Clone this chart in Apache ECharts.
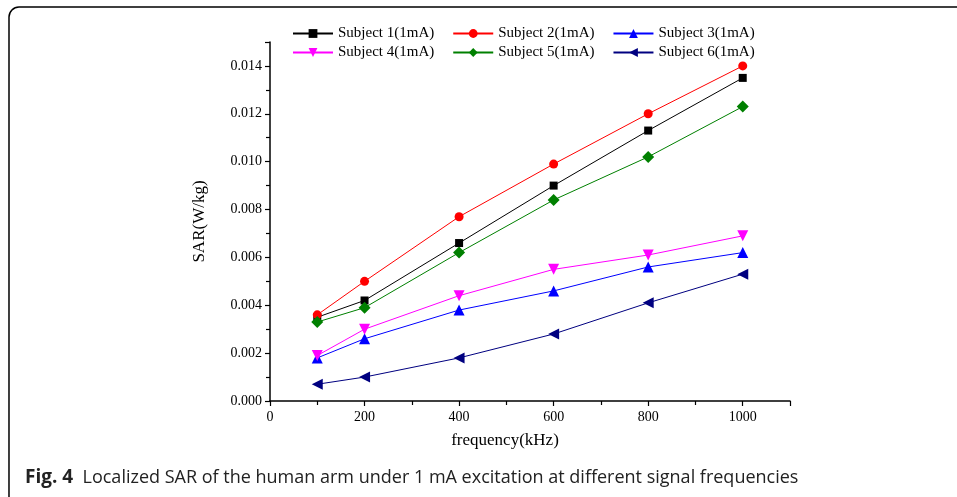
<!DOCTYPE html>
<html>
<head>
<meta charset="utf-8">
<script src="https://cdn.jsdelivr.net/npm/echarts@6/dist/echarts.min.js"></script>
<style>
  html, body { margin: 0; padding: 0; background: #fff; }
  #chart { width: 957px; height: 497px; }
</style>
</head>
<body>
<div id="chart"></div>
<script>
var chartDom = document.getElementById('chart');
var myChart = echarts.init(chartDom);

var frequencies = [100, 200, 400, 600, 800, 1000];
var subject1 = [0.0035, 0.0042, 0.0066, 0.0090, 0.0113, 0.0135];
var subject2 = [0.0036, 0.0050, 0.0077, 0.0099, 0.0120, 0.0140];
var subject3 = [0.0018, 0.0026, 0.0038, 0.0046, 0.0056, 0.0062];
var subject4 = [0.0019, 0.0030, 0.0044, 0.0055, 0.0061, 0.0069];
var subject5 = [0.0033, 0.0039, 0.0062, 0.0084, 0.0102, 0.0123];
var subject6 = [0.0007, 0.0010, 0.0018, 0.0028, 0.0041, 0.0053];

var names = ['Subject 1(1mA)', 'Subject 2(1mA)', 'Subject 3(1mA)',
             'Subject 4(1mA)', 'Subject 5(1mA)', 'Subject 6(1mA)'];

function pairs(values) {
  return frequencies.map(function (f, i) { return [f, values[i]]; });
}

var serif = 'Liberation Serif';

function makeSeries(name, values, color, symbol, size, rotate) {
  return {
    name: name,
    type: 'line',
    data: pairs(values),
    symbol: symbol,
    symbolSize: size,
    symbolRotate: rotate || 0,
    showAllSymbol: true,
    lineStyle: { color: color, width: 1 },
    itemStyle: { color: color },
    emphasis: { disabled: true }
  };
}

var legendCommon = {
  left: 287,
  itemWidth: 40,
  itemHeight: 11,
  itemGap: 18,
  textStyle: { fontFamily: serif, fontSize: 15, color: '#000' }
};

var option = {
  animation: false,
  backgroundColor: '#fff',
  legend: [
    Object.assign({ top: 21, data: names.slice(0, 3) }, legendCommon),
    Object.assign({ top: 40, data: names.slice(3, 6) }, legendCommon)
  ],
  grid: { left: 270, right: 167, top: 42, bottom: 96 },
  xAxis: {
    type: 'value',
    min: 0,
    max: 1100,
    interval: 200,
    name: 'frequency(kHz)',
    nameLocation: 'middle',
    nameGap: 31,
    nameTextStyle: { fontFamily: serif, fontSize: 17, color: '#000', padding: [0, 50, 0, 0] },
    axisLine: { lineStyle: { color: '#000', width: 1.5 } },
    axisTick: { length: 5, lineStyle: { color: '#000', width: 1.2 } },
    minorTick: { show: true, splitNumber: 2, length: 4, lineStyle: { color: '#000', width: 1.2 } },
    axisLabel: {
      fontFamily: serif, fontSize: 14, color: '#000', margin: 9,
      formatter: function (v) { return v > 1000 ? '' : v; }
    },
    splitLine: { show: false }
  },
  yAxis: {
    type: 'value',
    min: 0,
    max: 0.015,
    interval: 0.002,
    name: 'SAR(W/kg)',
    nameLocation: 'middle',
    nameGap: 62,
    nameTextStyle: { fontFamily: serif, fontSize: 17, color: '#000' },
    axisLine: { show: true, lineStyle: { color: '#000', width: 1.5 } },
    axisTick: { show: true, length: 5, lineStyle: { color: '#000', width: 1.2 } },
    minorTick: { show: true, splitNumber: 2, length: 4, lineStyle: { color: '#000', width: 1.2 } },
    axisLabel: {
      fontFamily: serif, fontSize: 14, color: '#000', margin: 8,
      formatter: function (v) { return v > 0.0145 ? '' : v.toFixed(3); }
    },
    splitLine: { show: false }
  },
  series: [
    makeSeries(names[0], subject1, '#000000', 'rect', 8),
    makeSeries(names[1], subject2, '#ff0000', 'circle', 9),
    makeSeries(names[2], subject3, '#0000ff', 'triangle', 11),
    makeSeries(names[3], subject4, '#ff00ff', 'triangle', 11, 180),
    makeSeries(names[4], subject5, '#008000', 'diamond', 12),
    makeSeries(names[5], subject6, '#000080', 'triangle', 11, 90)
  ],
  graphic: [
    {
      type: 'rect',
      shape: { x: 9, y: 7, width: 1000, height: 500, r: [10, 0, 0, 10] },
      style: { fill: null, stroke: '#000', lineWidth: 1.5 },
      silent: true
    },
    {
      type: 'text',
      left: 25,
      top: 468,
      style: {
        text: '{b|Fig. 4}  Localized SAR of the human arm under 1 mA excitation at different signal frequencies',
        font: '18px "Open Sans"',
        fill: '#222',
        rich: {
          b: { fontFamily: 'Open Sans', fontWeight: 'bold', fontSize: 19, fill: '#222' }
        }
      }
    }
  ]
};

myChart.setOption(option);
window.addEventListener('resize', () => myChart.resize());
</script>
</body>
</html>
